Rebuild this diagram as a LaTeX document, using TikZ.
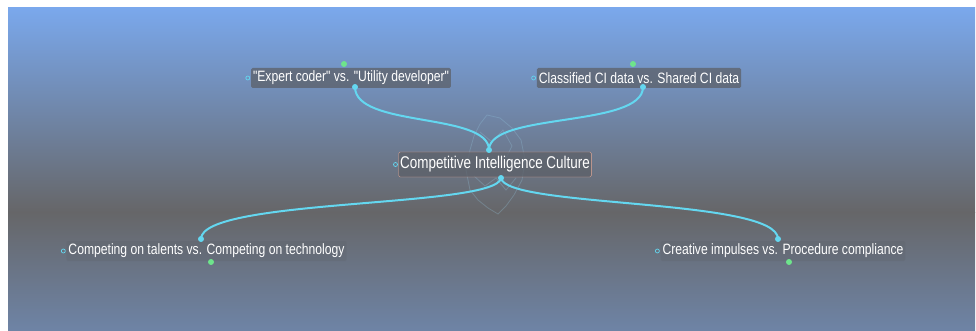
\documentclass[tikz,border=0pt]{standalone}
\usepackage{fontspec}
\newfontfamily\narrowsans[FakeStretch=0.81]{Liberation Sans}
\newfontfamily\narrowsanscentral[FakeStretch=0.79]{Liberation Sans}
\definecolor{bgtop}{RGB}{122,168,236}
\definecolor{bgmid}{RGB}{102,102,104}
\definecolor{bgbot}{RGB}{110,132,166}
\definecolor{linkc}{RGB}{100,215,240}
\definecolor{greenc}{RGB}{110,228,140}
\definecolor{boxfill}{RGB}{92,96,104}
\definecolor{boxdraw}{RGB}{230,170,150}
\definecolor{decoc}{RGB}{150,200,225}
\tikzset{
  topic/.style={font=\narrowsans\fontsize{15}{17}\selectfont, text=white,
    fill=boxfill, fill opacity=0.75, text opacity=1, rounded corners=1.5pt,
    inner xsep=2pt, inner ysep=0pt, minimum height=20pt},
  subtopic/.style={font=\narrowsans\fontsize{15}{17}\selectfont, text=white,
    fill=boxfill, fill opacity=0.25, text opacity=1, rounded corners=1.5pt,
    inner xsep=2pt, inner ysep=0pt, minimum height=20pt},
  central/.style={font=\narrowsanscentral\fontsize{17}{19}\selectfont, text=white,
    fill=boxfill, fill opacity=0.75, text opacity=1, draw=boxdraw, draw opacity=1,
    rounded corners=1.5pt, inner xsep=1.5pt, inner ysep=0pt, minimum height=25pt},
  link/.style={draw=linkc, line width=2pt},
  cdot/.style={fill=linkc},
  gdot/.style={fill=greenc},
  ring/.style={draw=linkc, line width=0.7pt},
  deco/.style={draw=decoc, draw opacity=0.28, line width=0.8pt}
}
\begin{document}
\begin{tikzpicture}[x=1pt,y=-1pt]
\useasboundingbox (0,0) rectangle (976,331);
\fill[white] (0,0) rectangle (976,331);
\shade[top color=bgtop, bottom color=bgmid] (8,8) rectangle (975,212.5);
\shade[top color=bgmid, bottom color=bgbot] (8,212) rectangle (975,331);

% faint decoration behind the central topic
\draw[deco] (487,115) -- (480,124) -- (474,136) -- (470,150) -- (466,170) -- (470,190)
  -- (478,200) -- (488,208) -- (498,214) -- (506,206) -- (514,195) -- (522,180)
  -- (525,160) -- (521,140) -- (512,128) -- (500,118) -- cycle;
\draw[deco] (480,132) -- (492,142) -- (503,130) -- (512,146) -- (506,158);
\draw[deco] (474,176) -- (485,186) -- (496,178) -- (506,190) -- (516,178);

% nodes
\node[central] (c) at (495,164.5) {Competitive Intelligence Culture};
\node[topic] (t1) at (351,78) {"Expert coder" vs. "Utility developer"};
\node[topic] (t2) at (639,78) {Classified CI data vs. Shared CI data};
\node[subtopic] (t3) at (206.5,251) {Competing on talents vs. Competing on technology};
\node[subtopic] (t4) at (783,251) {Creative impulses vs. Procedure compliance};

% connection points
\coordinate (ct) at (489,150);
\coordinate (cb) at (501,178);
\coordinate (t1b) at (355,87);
\coordinate (t2b) at (643,87);
\coordinate (t3t) at (201,239);
\coordinate (t4t) at (778,239);

% connectors
\draw[link] (t1b) .. controls (355,128) and (489,112) .. (ct);
\draw[link] (t2b) .. controls (643,128) and (489,112) .. (ct);
\draw[link] (cb) .. controls (497,208) and (201,198) .. (t3t);
\draw[link] (cb) .. controls (505,208) and (778,198) .. (t4t);

% dots
\foreach \p in {ct,cb,t1b,t2b,t3t,t4t} \fill[cdot] (\p) circle (3pt);
\fill[gdot] (344,64) circle (3pt);
\fill[gdot] (633,64) circle (3pt);
\fill[gdot] (211,262) circle (3pt);
\fill[gdot] (789,262) circle (3pt);

% small rings at the left of each topic
\draw[ring] ([xshift=-3pt]c.west) circle (2pt);
\draw[ring] ([xshift=-3pt]t1.west) circle (2pt);
\draw[ring] ([xshift=-3pt]t2.west) circle (2pt);
\draw[ring] ([xshift=-3pt]t3.west) circle (2pt);
\draw[ring] ([xshift=-3pt]t4.west) circle (2pt);
\end{tikzpicture}
\end{document}
